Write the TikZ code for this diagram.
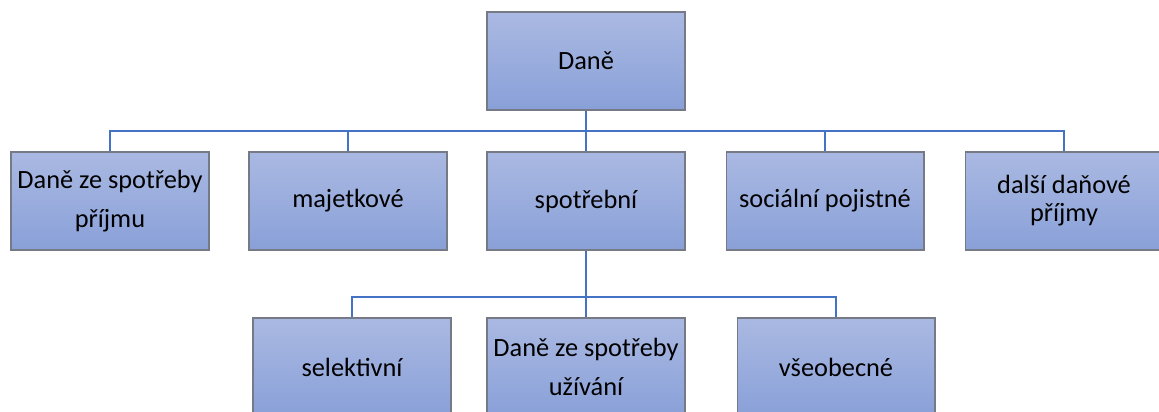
\documentclass[tikz,border=0pt]{standalone}
\usepackage{fontspec}
\setmainfont{Carlito}
\usepackage{tikz}
\usetikzlibrary{positioning, calc}
\definecolor{boxTop}{RGB}{170,185,226}
\definecolor{boxBottom}{RGB}{137,160,216}
\definecolor{boxEdge}{RGB}{118,122,134}
\definecolor{linkBlue}{RGB}{68,114,196}

\begin{document}
\begin{tikzpicture}[x=0.02cm,y=-0.02cm,
  box/.style={draw=boxEdge,line width=0.6pt,top color=boxTop,bottom color=boxBottom,
              minimum width=3.96cm,minimum height=1.96cm,inner sep=0pt,
              align=center,font=\fontsize{15}{22}\selectfont},
  link/.style={draw=linkBlue,line width=1.3pt}]
\useasboundingbox (0,0) rectangle (1159,412);

% Top
\node[box] (dane) at (586,61) {Daně};

% First level
\node[box] (prijem)  at (110,201) {Daně ze spotřeby\\příjmu};
\node[box] (majetek) at (348,201) {majetkové};
\node[box] (spotreb) at (586,201) {spotřební};
\node[box] (social)  at (825,201) {sociální pojistné};
\node[box,font=\fontsize{15}{16}\selectfont] (dalsi) at (1064,201) {další daňové\\příjmy};

% Second level (under spotrebni)
\node[box] (sel)   at (352,367) {selektivní};
\node[box] (uziv)  at (586,367) {Daně ze spotřeby\\užívání};
\node[box] (vseob) at (836,367) {všeobecné};

% Connectors
\coordinate (bus) at (586,131);
\coordinate (fork) at (586,297);
\draw[link] (dane.south) -- (bus);
\foreach \n in {prijem,majetek,spotreb,social,dalsi}
  \draw[link] (bus) -| (\n.north);
\draw[link] (spotreb.south) -- (uziv.north);
\draw[link] (fork) -| (sel.north);
\draw[link] (fork) -| (vseob.north);
\end{tikzpicture}
\end{document}
